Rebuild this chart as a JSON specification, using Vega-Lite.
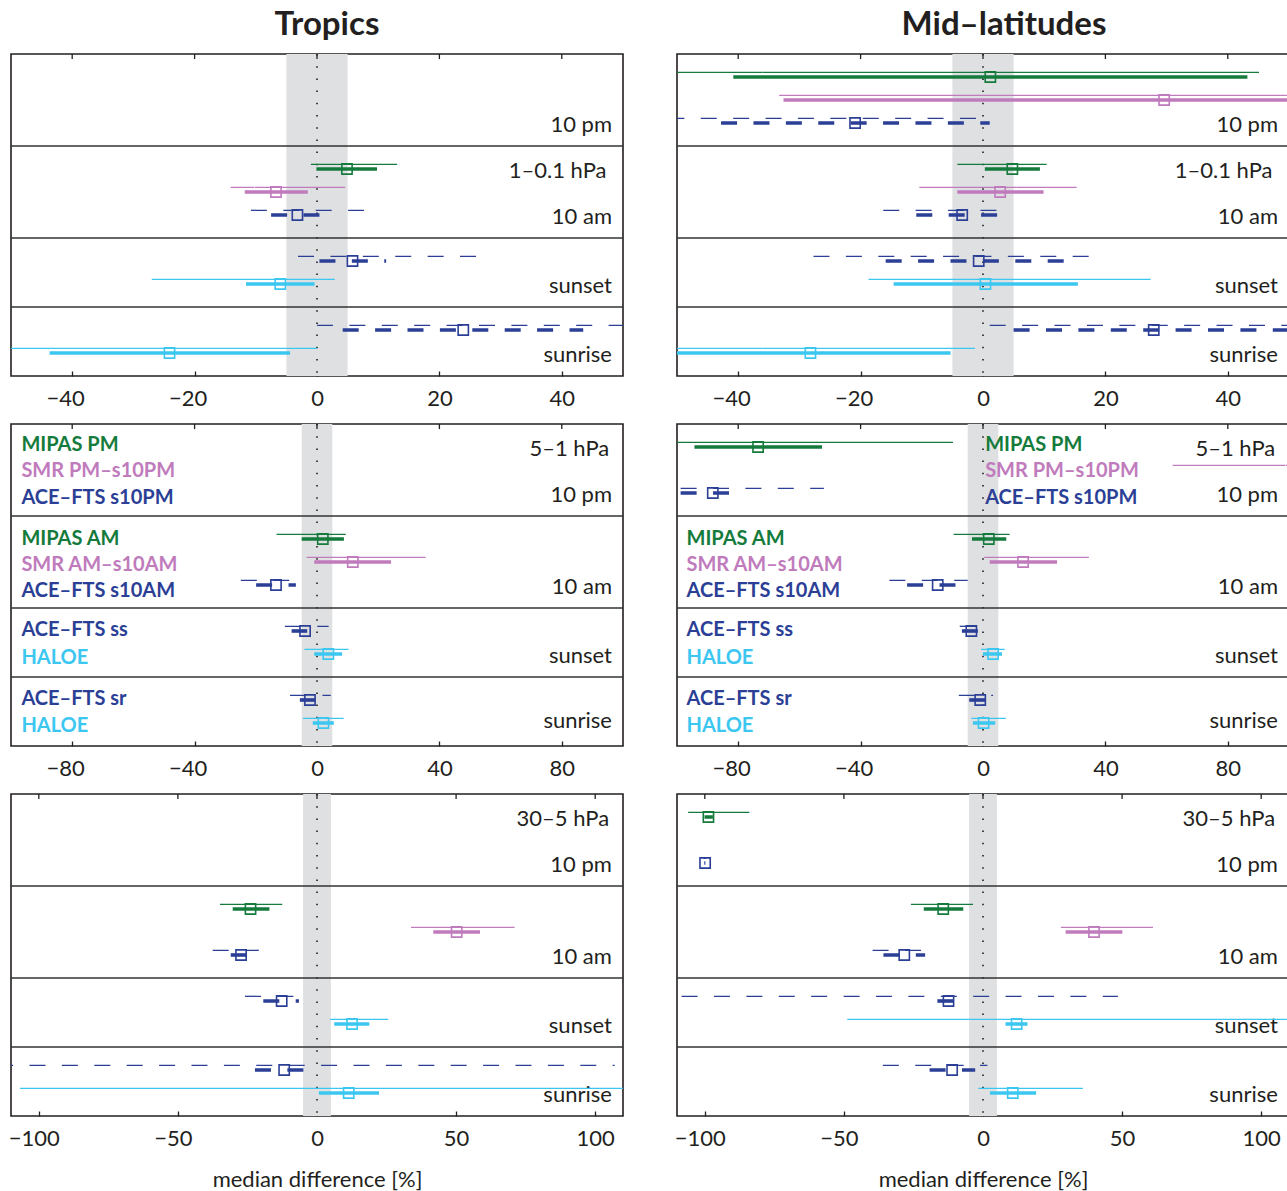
{
  "$schema": "https://vega.github.io/schema/vega-lite/v6.json",
  "padding": {"left": 7, "top": 8, "right": 0, "bottom": 0},
  "background": "white",
  "datasets": {
    "e": [
      {"c":"T","r":1,"i":"MIPAS","s":5,"a":-1.0,"b":13.1,"p":-0.1,"q":9.8,"m":4.9,"d":"s"},
      {"c":"T","r":1,"i":"SMR","s":6,"a":-14.1,"b":4.6,"p":-11.8,"q":-1.5,"m":-6.7,"d":"s"},
      {"c":"T","r":1,"i":"ACE","s":7,"a":-10.8,"b":7.8,"p":-7.5,"q":0.4,"m":-3.2,"d":"d"},
      {"c":"T","r":1,"i":"ACE","s":9,"a":-3.1,"b":26.1,"p":0.4,"q":11.3,"m":5.8,"d":"d"},
      {"c":"T","r":1,"i":"HALOE","s":10,"a":-27.0,"b":2.9,"p":-11.6,"q":-0.4,"m":-6.0,"d":"s"},
      {"c":"T","r":1,"i":"ACE","s":12,"a":0.0,"b":62,"p":4.2,"q":43.5,"m":23.9,"d":"d"},
      {"c":"T","r":1,"i":"HALOE","s":13,"a":-62,"b":0.0,"p":-43.7,"q":-4.4,"m":-24.1,"d":"s"},
      {"c":"M","r":1,"i":"MIPAS","s":1,"a":-62,"b":45.1,"p":-40.8,"q":43.2,"m":1.2,"d":"s"},
      {"c":"M","r":1,"i":"SMR","s":2,"a":-33.3,"b":62,"p":-32.6,"q":62,"m":29.6,"d":"s"},
      {"c":"M","r":1,"i":"ACE","s":3,"a":-62,"b":0.6,"p":-42.8,"q":1.1,"m":-20.9,"d":"d"},
      {"c":"M","r":1,"i":"MIPAS","s":5,"a":-4.2,"b":10.4,"p":0.3,"q":9.3,"m":4.8,"d":"s"},
      {"c":"M","r":1,"i":"SMR","s":6,"a":-10.4,"b":15.3,"p":-4.2,"q":9.9,"m":2.8,"d":"s"},
      {"c":"M","r":1,"i":"ACE","s":7,"a":-16.3,"b":2.6,"p":-10.9,"q":2.6,"m":-3.4,"d":"d"},
      {"c":"M","r":1,"i":"ACE","s":9,"a":-27.7,"b":17.6,"p":-15.9,"q":13.4,"m":-0.7,"d":"d"},
      {"c":"M","r":1,"i":"HALOE","s":10,"a":-18.7,"b":27.4,"p":-14.6,"q":15.5,"m":0.4,"d":"s"},
      {"c":"M","r":1,"i":"ACE","s":12,"a":1.1,"b":62,"p":5.0,"q":62,"m":27.9,"d":"d"},
      {"c":"M","r":1,"i":"HALOE","s":13,"a":-62,"b":-1.3,"p":-62,"q":-5.3,"m":-28.2,"d":"s"},
      {"c":"T","r":2,"i":"MIPAS","s":5,"a":-13.2,"b":9.4,"p":-5.0,"q":8.8,"m":1.9,"d":"s"},
      {"c":"T","r":2,"i":"SMR","s":6,"a":-3.4,"b":35.5,"p":-0.9,"q":24.2,"m":11.7,"d":"s"},
      {"c":"T","r":2,"i":"ACE","s":7,"a":-24.9,"b":-8.8,"p":-19.9,"q":-6.9,"m":-13.4,"d":"d"},
      {"c":"T","r":2,"i":"ACE","s":9,"a":-10.5,"b":3.8,"p":-8.3,"q":-3.2,"m":-3.9,"d":"d"},
      {"c":"T","r":2,"i":"HALOE","s":10,"a":-4.1,"b":10.3,"p":-0.9,"q":8.2,"m":3.7,"d":"s"},
      {"c":"T","r":2,"i":"ACE","s":12,"a":-8.8,"b":4.5,"p":-5.6,"q":-0.6,"m":-2.3,"d":"d"},
      {"c":"T","r":2,"i":"HALOE","s":13,"a":-4.6,"b":8.7,"p":-1.4,"q":5.5,"m":2.1,"d":"s"},
      {"c":"M","r":2,"i":"MIPAS","s":1,"a":-120,"b":-9.8,"p":-94.3,"q":-52.6,"m":-73.5,"d":"s"},
      {"c":"M","r":2,"i":"SMR","s":2,"a":62,"b":140,"p":104,"q":130,"m":115,"d":"s"},
      {"c":"M","r":2,"i":"ACE","s":3,"a":-120,"b":-52,"p":-120,"q":-77.8,"m":-88.3,"d":"d"},
      {"c":"M","r":2,"i":"MIPAS","s":5,"a":-9.6,"b":8.7,"p":-3.6,"q":7.6,"m":1.9,"d":"s"},
      {"c":"M","r":2,"i":"SMR","s":6,"a":0.4,"b":34.6,"p":2.2,"q":24.2,"m":13.1,"d":"s"},
      {"c":"M","r":2,"i":"ACE","s":7,"a":-30.6,"b":-5.0,"p":-24.8,"q":-9.0,"m":-14.8,"d":"d"},
      {"c":"M","r":2,"i":"ACE","s":9,"a":-7.6,"b":-1.6,"p":-6.9,"q":-1.6,"m":-3.8,"d":"d"},
      {"c":"M","r":2,"i":"HALOE","s":10,"a":-0.6,"b":7.1,"p":0.0,"q":6.2,"m":3.3,"d":"s"},
      {"c":"M","r":2,"i":"ACE","s":12,"a":-7.9,"b":3.3,"p":-4.5,"q":0.8,"m":-0.9,"d":"d"},
      {"c":"M","r":2,"i":"HALOE","s":13,"a":-3.8,"b":7.5,"p":-3.3,"q":4.0,"m":0.2,"d":"s"},
      {"c":"T","r":3,"i":"MIPAS","s":5,"a":-34.9,"b":-12.5,"p":-30.3,"q":-17.1,"m":-23.9,"d":"s"},
      {"c":"T","r":3,"i":"SMR","s":6,"a":33.8,"b":71.0,"p":41.8,"q":58.6,"m":50.2,"d":"s"},
      {"c":"T","r":3,"i":"ACE","s":7,"a":-37.5,"b":-20.9,"p":-31.0,"q":-25.3,"m":-27.3,"d":"d"},
      {"c":"T","r":3,"i":"ACE","s":9,"a":-25.9,"b":-8.3,"p":-19.3,"q":-6.5,"m":-12.7,"d":"d"},
      {"c":"T","r":3,"i":"HALOE","s":10,"a":4.7,"b":25.6,"p":6.2,"q":18.8,"m":12.6,"d":"s"},
      {"c":"T","r":3,"i":"ACE","s":12,"a":-115,"b":107,"p":-22.3,"q":-4.9,"m":-11.8,"d":"d"},
      {"c":"T","r":3,"i":"HALOE","s":13,"a":-106.8,"b":130,"p":0.7,"q":22.3,"m":11.4,"d":"s"},
      {"c":"M","r":3,"i":"MIPAS","s":1,"a":-106,"b":-84,"p":-100.1,"q":-97.1,"m":-98.7,"d":"s"},
      {"c":"M","r":3,"i":"ACE","s":3,"a":-100.5,"b":-99.5,"p":-100.2,"q":-99.8,"m":-99.9,"d":"d"},
      {"c":"M","r":3,"i":"MIPAS","s":5,"a":-25.9,"b":-3.6,"p":-21.3,"q":-7.1,"m":-14.3,"d":"s"},
      {"c":"M","r":3,"i":"SMR","s":6,"a":28.0,"b":61.1,"p":29.7,"q":50.1,"m":39.9,"d":"s"},
      {"c":"M","r":3,"i":"ACE","s":7,"a":-39.7,"b":-22.0,"p":-35.8,"q":-20.8,"m":-28.3,"d":"d"},
      {"c":"M","r":3,"i":"ACE","s":9,"a":-120,"b":48.5,"p":-16.4,"q":-10.3,"m":-12.4,"d":"d"},
      {"c":"M","r":3,"i":"HALOE","s":10,"a":-48.8,"b":130,"p":8.1,"q":16.0,"m":12.1,"d":"s"},
      {"c":"M","r":3,"i":"ACE","s":12,"a":-36.0,"b":1.6,"p":-19.2,"q":-2.8,"m":-11.1,"d":"d"},
      {"c":"M","r":3,"i":"HALOE","s":13,"a":-1.7,"b":35.9,"p":2.5,"q":19.1,"m":10.7,"d":"s"}
    ],
    "l": [
      {"r":1,"t":"10 pm","x":48.2,"y":3.37},
      {"r":1,"t":"1–0.1 hPa","x":47.3,"y":5.37},
      {"r":1,"t":"10 am","x":48.2,"y":7.37},
      {"r":1,"t":"sunset","x":48.2,"y":10.37},
      {"r":1,"t":"sunrise","x":48.2,"y":13.37},
      {"r":2,"t":"5–1 hPa","x":95.5,"y":1.37},
      {"r":2,"t":"10 pm","x":96.4,"y":3.37},
      {"r":2,"t":"10 am","x":96.4,"y":7.37},
      {"r":2,"t":"sunset","x":96.4,"y":10.37},
      {"r":2,"t":"sunrise","x":96.4,"y":13.2},
      {"r":3,"t":"30–5 hPa","x":105,"y":1.37},
      {"r":3,"t":"10 pm","x":106,"y":3.37},
      {"r":3,"t":"10 am","x":106,"y":7.37},
      {"r":3,"t":"sunset","x":106,"y":10.37},
      {"r":3,"t":"sunrise","x":106,"y":13.37}
    ],
    "g": [
      {"c":"T","t":"MIPAS PM","i":"MIPAS","x":-96.6,"y":1.16},
      {"c":"T","t":"SMR PM–s10PM","i":"SMR","x":-96.6,"y":2.32},
      {"c":"T","t":"ACE–FTS s10PM","i":"ACE","x":-96.6,"y":3.48},
      {"c":"T","t":"MIPAS AM","i":"MIPAS","x":-96.6,"y":5.26},
      {"c":"T","t":"SMR AM–s10AM","i":"SMR","x":-96.6,"y":6.37},
      {"c":"T","t":"ACE–FTS s10AM","i":"ACE","x":-96.6,"y":7.5},
      {"c":"T","t":"ACE–FTS ss","i":"ACE","x":-96.6,"y":9.2},
      {"c":"T","t":"HALOE","i":"HALOE","x":-96.6,"y":10.42},
      {"c":"T","t":"ACE–FTS sr","i":"ACE","x":-96.6,"y":12.2},
      {"c":"T","t":"HALOE","i":"HALOE","x":-96.6,"y":13.4},
      {"c":"M","t":"MIPAS PM","i":"MIPAS","x":0.7,"y":1.16},
      {"c":"M","t":"SMR PM–s10PM","i":"SMR","x":0.7,"y":2.32},
      {"c":"M","t":"ACE–FTS s10PM","i":"ACE","x":0.7,"y":3.48},
      {"c":"M","t":"MIPAS AM","i":"MIPAS","x":-96.9,"y":5.26},
      {"c":"M","t":"SMR AM–s10AM","i":"SMR","x":-96.9,"y":6.37},
      {"c":"M","t":"ACE–FTS s10AM","i":"ACE","x":-96.9,"y":7.5},
      {"c":"M","t":"ACE–FTS ss","i":"ACE","x":-96.9,"y":9.2},
      {"c":"M","t":"HALOE","i":"HALOE","x":-96.9,"y":10.42},
      {"c":"M","t":"ACE–FTS sr","i":"ACE","x":-96.9,"y":12.2},
      {"c":"M","t":"HALOE","i":"HALOE","x":-96.9,"y":13.4}
    ],
    "t": [
      {"r":1,"v":-40},{"r":1,"v":-20},{"r":1,"v":0},{"r":1,"v":20},{"r":1,"v":40},
      {"r":2,"v":-80},{"r":2,"v":-40},{"r":2,"v":0},{"r":2,"v":40},{"r":2,"v":80},
      {"r":3,"v":-100},{"r":3,"v":-50},{"r":3,"v":0},{"r":3,"v":50},{"r":3,"v":100}
    ],
    "sep": [{"y": 4}, {"y": 8}, {"y": 11}]
  },
  "spacing": 12,
  "vconcat": [
    {
      "spacing": 54, "bounds": "flush",
      "hconcat": [
        {
          "width": 612, "height": 322,
          "title": {"text": "Tropics", "fontSize": 33, "fontWeight": "bold", "font": "Lato", "color": "#231f20", "baseline": "alphabetic", "offset": -15, "dx": 10},
          "layer": [
            {"data": {"values": [{}]}, "mark": {"type": "rect", "color": "#dfe0e2"},
             "encoding": {"x": {"datum": -5, "type": "quantitative", "scale": {"domain": [-50, 50], "nice": false, "zero": false}, "axis": {"values": [-40, -20, 0, 20, 40], "title": null, "labelOffset": {"condition": {"test": "datum.value < 0", "value": -7}, "value": 0}}}, "x2": {"datum": 5}}},
            {"data": {"values": [{}]}, "mark": {"type": "rule", "color": "#000000", "strokeDash": [1.5, 10.7], "strokeWidth": 1.4}, "encoding": {"x": {"datum": 0, "type": "quantitative"}}},
            {"data": {"name": "t"}, "transform": [{"filter": "datum.r == 1"}], "mark": {"type": "rule", "color": "#231f20", "strokeWidth": 1.3},
             "encoding": {"x": {"field": "v", "type": "quantitative"}, "y": {"datum": 0, "type": "quantitative"}, "y2": {"datum": 0.22}}},
            {"data": {"name": "sep"}, "mark": {"type": "rule", "color": "#333333", "strokeWidth": 1.6},
             "encoding": {"y": {"field": "y", "type": "quantitative", "scale": {"domain": [0, 14], "reverse": true, "nice": false, "zero": false}, "axis": null}}},
            {"data": {"name": "l"}, "transform": [{"filter": "datum.r == 1"}], "mark": {"type": "text", "align": "right", "baseline": "alphabetic", "fontSize": 22, "font": "Lato", "color": "#231f20"},
             "encoding": {"x": {"field": "x", "type": "quantitative"}, "y": {"field": "y", "type": "quantitative"}, "text": {"field": "t"}}},
            {"data": {"name": "e"}, "transform": [{"filter": "datum.c == 'T' && datum.r == 1"}], "mark": {"type": "rule", "strokeWidth": 1.3, "yOffset": -4.7, "clip": true},
             "encoding": {"x": {"field": "a", "type": "quantitative"}, "x2": {"field": "b"}, "y": {"field": "s", "type": "quantitative"},
               "color": {"field": "i", "type": "nominal", "scale": {"domain": ["MIPAS", "SMR", "ACE", "HALOE"], "range": ["#157b3c", "#c07bbd", "#2b3f96", "#3cc7f0"]}, "legend": null},
               "strokeDash": {"field": "d", "type": "nominal", "scale": {"domain": ["s", "d"], "range": [[1, 0], [16, 16.4]]}, "legend": null}}},
            {"data": {"name": "e"}, "transform": [{"filter": "datum.c == 'T' && datum.r == 1"}], "mark": {"type": "rule", "strokeWidth": 3.6, "clip": true},
             "encoding": {"x": {"field": "p", "type": "quantitative"}, "x2": {"field": "q"}, "y": {"field": "s", "type": "quantitative"},
               "color": {"field": "i", "type": "nominal", "legend": null},
               "strokeDash": {"field": "d", "type": "nominal", "legend": null}}},
            {"data": {"name": "e"}, "transform": [{"filter": "datum.c == 'T' && datum.r == 1"}], "mark": {"type": "point", "shape": "square", "filled": false, "size": 105, "strokeWidth": 1.6, "opacity": 1, "clip": true},
             "encoding": {"x": {"field": "m", "type": "quantitative"}, "y": {"field": "s", "type": "quantitative"}, "color": {"field": "i", "type": "nominal", "legend": null}}}
          ]
        },
        {
          "width": 612, "height": 322,
          "title": {"text": "Mid–latitudes", "fontSize": 33, "fontWeight": "bold", "font": "Lato", "color": "#231f20", "baseline": "alphabetic", "offset": -15, "dx": 21},
          "layer": [
            {"data": {"values": [{}]}, "mark": {"type": "rect", "color": "#dfe0e2"},
             "encoding": {"x": {"datum": -5, "type": "quantitative", "scale": {"domain": [-50, 50], "nice": false, "zero": false}, "axis": {"values": [-40, -20, 0, 20, 40], "title": null, "labelOffset": {"condition": {"test": "datum.value < 0", "value": -7}, "value": 0}}}, "x2": {"datum": 5}}},
            {"data": {"values": [{}]}, "mark": {"type": "rule", "color": "#000000", "strokeDash": [1.5, 10.7], "strokeWidth": 1.4}, "encoding": {"x": {"datum": 0, "type": "quantitative"}}},
            {"data": {"name": "t"}, "transform": [{"filter": "datum.r == 1"}], "mark": {"type": "rule", "color": "#231f20", "strokeWidth": 1.3},
             "encoding": {"x": {"field": "v", "type": "quantitative"}, "y": {"datum": 0, "type": "quantitative"}, "y2": {"datum": 0.22}}},
            {"data": {"name": "sep"}, "mark": {"type": "rule", "color": "#333333", "strokeWidth": 1.6},
             "encoding": {"y": {"field": "y", "type": "quantitative", "scale": {"domain": [0, 14], "reverse": true, "nice": false, "zero": false}, "axis": null}}},
            {"data": {"name": "l"}, "transform": [{"filter": "datum.r == 1"}], "mark": {"type": "text", "align": "right", "baseline": "alphabetic", "fontSize": 22, "font": "Lato", "color": "#231f20"},
             "encoding": {"x": {"field": "x", "type": "quantitative"}, "y": {"field": "y", "type": "quantitative"}, "text": {"field": "t"}}},
            {"data": {"name": "e"}, "transform": [{"filter": "datum.c == 'M' && datum.r == 1"}], "mark": {"type": "rule", "strokeWidth": 1.3, "yOffset": -4.7, "clip": true},
             "encoding": {"x": {"field": "a", "type": "quantitative"}, "x2": {"field": "b"}, "y": {"field": "s", "type": "quantitative"},
               "color": {"field": "i", "type": "nominal", "scale": {"domain": ["MIPAS", "SMR", "ACE", "HALOE"], "range": ["#157b3c", "#c07bbd", "#2b3f96", "#3cc7f0"]}, "legend": null},
               "strokeDash": {"field": "d", "type": "nominal", "scale": {"domain": ["s", "d"], "range": [[1, 0], [16, 16.4]]}, "legend": null}}},
            {"data": {"name": "e"}, "transform": [{"filter": "datum.c == 'M' && datum.r == 1"}], "mark": {"type": "rule", "strokeWidth": 3.6, "clip": true},
             "encoding": {"x": {"field": "p", "type": "quantitative"}, "x2": {"field": "q"}, "y": {"field": "s", "type": "quantitative"},
               "color": {"field": "i", "type": "nominal", "legend": null},
               "strokeDash": {"field": "d", "type": "nominal", "legend": null}}},
            {"data": {"name": "e"}, "transform": [{"filter": "datum.c == 'M' && datum.r == 1"}], "mark": {"type": "point", "shape": "square", "filled": false, "size": 105, "strokeWidth": 1.6, "opacity": 1, "clip": true},
             "encoding": {"x": {"field": "m", "type": "quantitative"}, "y": {"field": "s", "type": "quantitative"}, "color": {"field": "i", "type": "nominal", "legend": null}}}
          ]
        }
      ]
    },
    {
      "spacing": 54, "bounds": "flush",
      "hconcat": [
        {
          "width": 612, "height": 322,
          "layer": [
            {"data": {"values": [{}]}, "mark": {"type": "rect", "color": "#dfe0e2"},
             "encoding": {"x": {"datum": -5, "type": "quantitative", "scale": {"domain": [-100, 100], "nice": false, "zero": false}, "axis": {"values": [-80, -40, 0, 40, 80], "title": null, "labelOffset": {"condition": {"test": "datum.value < 0", "value": -7}, "value": 0}}}, "x2": {"datum": 5}}},
            {"data": {"values": [{}]}, "mark": {"type": "rule", "color": "#000000", "strokeDash": [1.5, 10.7], "strokeWidth": 1.4}, "encoding": {"x": {"datum": 0, "type": "quantitative"}}},
            {"data": {"name": "t"}, "transform": [{"filter": "datum.r == 2"}], "mark": {"type": "rule", "color": "#231f20", "strokeWidth": 1.3},
             "encoding": {"x": {"field": "v", "type": "quantitative"}, "y": {"datum": 0, "type": "quantitative"}, "y2": {"datum": 0.22}}},
            {"data": {"name": "sep"}, "mark": {"type": "rule", "color": "#333333", "strokeWidth": 1.6},
             "encoding": {"y": {"field": "y", "type": "quantitative", "scale": {"domain": [0, 14], "reverse": true, "nice": false, "zero": false}, "axis": null}}},
            {"data": {"name": "l"}, "transform": [{"filter": "datum.r == 2"}], "mark": {"type": "text", "align": "right", "baseline": "alphabetic", "fontSize": 22, "font": "Lato", "color": "#231f20"},
             "encoding": {"x": {"field": "x", "type": "quantitative"}, "y": {"field": "y", "type": "quantitative"}, "text": {"field": "t"}}},
            {"data": {"name": "g"}, "transform": [{"filter": "datum.c == 'T'"}], "mark": {"type": "text", "align": "left", "baseline": "alphabetic", "fontSize": 20, "fontWeight": "bold", "font": "Lato"},
             "encoding": {"x": {"field": "x", "type": "quantitative"}, "y": {"field": "y", "type": "quantitative"}, "text": {"field": "t"},
               "color": {"field": "i", "type": "nominal", "scale": {"domain": ["MIPAS", "SMR", "ACE", "HALOE"], "range": ["#157b3c", "#c07bbd", "#2b3f96", "#3cc7f0"]}, "legend": null}}},
            {"data": {"name": "e"}, "transform": [{"filter": "datum.c == 'T' && datum.r == 2"}], "mark": {"type": "rule", "strokeWidth": 1.3, "yOffset": -4.7, "clip": true},
             "encoding": {"x": {"field": "a", "type": "quantitative"}, "x2": {"field": "b"}, "y": {"field": "s", "type": "quantitative"},
               "color": {"field": "i", "type": "nominal", "legend": null},
               "strokeDash": {"field": "d", "type": "nominal", "scale": {"domain": ["s", "d"], "range": [[1, 0], [16, 16.4]]}, "legend": null}}},
            {"data": {"name": "e"}, "transform": [{"filter": "datum.c == 'T' && datum.r == 2"}], "mark": {"type": "rule", "strokeWidth": 3.6, "clip": true},
             "encoding": {"x": {"field": "p", "type": "quantitative"}, "x2": {"field": "q"}, "y": {"field": "s", "type": "quantitative"},
               "color": {"field": "i", "type": "nominal", "legend": null},
               "strokeDash": {"field": "d", "type": "nominal", "legend": null}}},
            {"data": {"name": "e"}, "transform": [{"filter": "datum.c == 'T' && datum.r == 2"}], "mark": {"type": "point", "shape": "square", "filled": false, "size": 105, "strokeWidth": 1.6, "opacity": 1, "clip": true},
             "encoding": {"x": {"field": "m", "type": "quantitative"}, "y": {"field": "s", "type": "quantitative"}, "color": {"field": "i", "type": "nominal", "legend": null}}}
          ]
        },
        {
          "width": 612, "height": 322,
          "layer": [
            {"data": {"values": [{}]}, "mark": {"type": "rect", "color": "#dfe0e2"},
             "encoding": {"x": {"datum": -5, "type": "quantitative", "scale": {"domain": [-100, 100], "nice": false, "zero": false}, "axis": {"values": [-80, -40, 0, 40, 80], "title": null, "labelOffset": {"condition": {"test": "datum.value < 0", "value": -7}, "value": 0}}}, "x2": {"datum": 5}}},
            {"data": {"values": [{}]}, "mark": {"type": "rule", "color": "#000000", "strokeDash": [1.5, 10.7], "strokeWidth": 1.4}, "encoding": {"x": {"datum": 0, "type": "quantitative"}}},
            {"data": {"name": "t"}, "transform": [{"filter": "datum.r == 2"}], "mark": {"type": "rule", "color": "#231f20", "strokeWidth": 1.3},
             "encoding": {"x": {"field": "v", "type": "quantitative"}, "y": {"datum": 0, "type": "quantitative"}, "y2": {"datum": 0.22}}},
            {"data": {"name": "sep"}, "mark": {"type": "rule", "color": "#333333", "strokeWidth": 1.6},
             "encoding": {"y": {"field": "y", "type": "quantitative", "scale": {"domain": [0, 14], "reverse": true, "nice": false, "zero": false}, "axis": null}}},
            {"data": {"name": "l"}, "transform": [{"filter": "datum.r == 2"}], "mark": {"type": "text", "align": "right", "baseline": "alphabetic", "fontSize": 22, "font": "Lato", "color": "#231f20"},
             "encoding": {"x": {"field": "x", "type": "quantitative"}, "y": {"field": "y", "type": "quantitative"}, "text": {"field": "t"}}},
            {"data": {"name": "g"}, "transform": [{"filter": "datum.c == 'M'"}], "mark": {"type": "text", "align": "left", "baseline": "alphabetic", "fontSize": 20, "fontWeight": "bold", "font": "Lato"},
             "encoding": {"x": {"field": "x", "type": "quantitative"}, "y": {"field": "y", "type": "quantitative"}, "text": {"field": "t"},
               "color": {"field": "i", "type": "nominal", "scale": {"domain": ["MIPAS", "SMR", "ACE", "HALOE"], "range": ["#157b3c", "#c07bbd", "#2b3f96", "#3cc7f0"]}, "legend": null}}},
            {"data": {"name": "e"}, "transform": [{"filter": "datum.c == 'M' && datum.r == 2"}], "mark": {"type": "rule", "strokeWidth": 1.3, "yOffset": -4.7, "clip": true},
             "encoding": {"x": {"field": "a", "type": "quantitative"}, "x2": {"field": "b"}, "y": {"field": "s", "type": "quantitative"},
               "color": {"field": "i", "type": "nominal", "legend": null},
               "strokeDash": {"field": "d", "type": "nominal", "scale": {"domain": ["s", "d"], "range": [[1, 0], [16, 16.4]]}, "legend": null}}},
            {"data": {"name": "e"}, "transform": [{"filter": "datum.c == 'M' && datum.r == 2"}], "mark": {"type": "rule", "strokeWidth": 3.6, "clip": true},
             "encoding": {"x": {"field": "p", "type": "quantitative"}, "x2": {"field": "q"}, "y": {"field": "s", "type": "quantitative"},
               "color": {"field": "i", "type": "nominal", "legend": null},
               "strokeDash": {"field": "d", "type": "nominal", "legend": null}}},
            {"data": {"name": "e"}, "transform": [{"filter": "datum.c == 'M' && datum.r == 2"}], "mark": {"type": "point", "shape": "square", "filled": false, "size": 105, "strokeWidth": 1.6, "opacity": 1, "clip": true},
             "encoding": {"x": {"field": "m", "type": "quantitative"}, "y": {"field": "s", "type": "quantitative"}, "color": {"field": "i", "type": "nominal", "legend": null}}}
          ]
        }
      ]
    },
    {
      "spacing": 54, "bounds": "flush",
      "hconcat": [
        {
          "width": 612, "height": 322,
          "layer": [
            {"data": {"values": [{}]}, "mark": {"type": "rect", "color": "#dfe0e2"},
             "encoding": {"x": {"datum": -5, "type": "quantitative", "scale": {"domain": [-110, 110], "nice": false, "zero": false}, "axis": {"values": [-100, -50, 0, 50, 100], "title": "median difference [%]", "labelOffset": {"condition": {"test": "datum.value < 0", "value": -5}, "value": 0}}}, "x2": {"datum": 5}}},
            {"data": {"values": [{}]}, "mark": {"type": "rule", "color": "#000000", "strokeDash": [1.5, 10.7], "strokeWidth": 1.4}, "encoding": {"x": {"datum": 0, "type": "quantitative"}}},
            {"data": {"name": "t"}, "transform": [{"filter": "datum.r == 3"}], "mark": {"type": "rule", "color": "#231f20", "strokeWidth": 1.3},
             "encoding": {"x": {"field": "v", "type": "quantitative"}, "y": {"datum": 0, "type": "quantitative"}, "y2": {"datum": 0.22}}},
            {"data": {"name": "sep"}, "mark": {"type": "rule", "color": "#333333", "strokeWidth": 1.6},
             "encoding": {"y": {"field": "y", "type": "quantitative", "scale": {"domain": [0, 14], "reverse": true, "nice": false, "zero": false}, "axis": null}}},
            {"data": {"name": "l"}, "transform": [{"filter": "datum.r == 3"}], "mark": {"type": "text", "align": "right", "baseline": "alphabetic", "fontSize": 22, "font": "Lato", "color": "#231f20"},
             "encoding": {"x": {"field": "x", "type": "quantitative"}, "y": {"field": "y", "type": "quantitative"}, "text": {"field": "t"}}},
            {"data": {"name": "e"}, "transform": [{"filter": "datum.c == 'T' && datum.r == 3"}], "mark": {"type": "rule", "strokeWidth": 1.3, "yOffset": -4.7, "clip": true},
             "encoding": {"x": {"field": "a", "type": "quantitative"}, "x2": {"field": "b"}, "y": {"field": "s", "type": "quantitative"},
               "color": {"field": "i", "type": "nominal", "scale": {"domain": ["MIPAS", "SMR", "ACE", "HALOE"], "range": ["#157b3c", "#c07bbd", "#2b3f96", "#3cc7f0"]}, "legend": null},
               "strokeDash": {"field": "d", "type": "nominal", "scale": {"domain": ["s", "d"], "range": [[1, 0], [16, 16.4]]}, "legend": null}}},
            {"data": {"name": "e"}, "transform": [{"filter": "datum.c == 'T' && datum.r == 3"}], "mark": {"type": "rule", "strokeWidth": 3.6, "clip": true},
             "encoding": {"x": {"field": "p", "type": "quantitative"}, "x2": {"field": "q"}, "y": {"field": "s", "type": "quantitative"},
               "color": {"field": "i", "type": "nominal", "legend": null},
               "strokeDash": {"field": "d", "type": "nominal", "legend": null}}},
            {"data": {"name": "e"}, "transform": [{"filter": "datum.c == 'T' && datum.r == 3"}], "mark": {"type": "point", "shape": "square", "filled": false, "size": 105, "strokeWidth": 1.6, "opacity": 1, "clip": true},
             "encoding": {"x": {"field": "m", "type": "quantitative"}, "y": {"field": "s", "type": "quantitative"}, "color": {"field": "i", "type": "nominal", "legend": null}}}
          ]
        },
        {
          "width": 612, "height": 322,
          "layer": [
            {"data": {"values": [{}]}, "mark": {"type": "rect", "color": "#dfe0e2"},
             "encoding": {"x": {"datum": -5, "type": "quantitative", "scale": {"domain": [-110, 110], "nice": false, "zero": false}, "axis": {"values": [-100, -50, 0, 50, 100], "title": "median difference [%]", "labelOffset": {"condition": {"test": "datum.value < 0", "value": -5}, "value": 0}}}, "x2": {"datum": 5}}},
            {"data": {"values": [{}]}, "mark": {"type": "rule", "color": "#000000", "strokeDash": [1.5, 10.7], "strokeWidth": 1.4}, "encoding": {"x": {"datum": 0, "type": "quantitative"}}},
            {"data": {"name": "t"}, "transform": [{"filter": "datum.r == 3"}], "mark": {"type": "rule", "color": "#231f20", "strokeWidth": 1.3},
             "encoding": {"x": {"field": "v", "type": "quantitative"}, "y": {"datum": 0, "type": "quantitative"}, "y2": {"datum": 0.22}}},
            {"data": {"name": "sep"}, "mark": {"type": "rule", "color": "#333333", "strokeWidth": 1.6},
             "encoding": {"y": {"field": "y", "type": "quantitative", "scale": {"domain": [0, 14], "reverse": true, "nice": false, "zero": false}, "axis": null}}},
            {"data": {"name": "l"}, "transform": [{"filter": "datum.r == 3"}], "mark": {"type": "text", "align": "right", "baseline": "alphabetic", "fontSize": 22, "font": "Lato", "color": "#231f20"},
             "encoding": {"x": {"field": "x", "type": "quantitative"}, "y": {"field": "y", "type": "quantitative"}, "text": {"field": "t"}}},
            {"data": {"name": "e"}, "transform": [{"filter": "datum.c == 'M' && datum.r == 3"}], "mark": {"type": "rule", "strokeWidth": 1.3, "yOffset": -4.7, "clip": true},
             "encoding": {"x": {"field": "a", "type": "quantitative"}, "x2": {"field": "b"}, "y": {"field": "s", "type": "quantitative"},
               "color": {"field": "i", "type": "nominal", "scale": {"domain": ["MIPAS", "SMR", "ACE", "HALOE"], "range": ["#157b3c", "#c07bbd", "#2b3f96", "#3cc7f0"]}, "legend": null},
               "strokeDash": {"field": "d", "type": "nominal", "scale": {"domain": ["s", "d"], "range": [[1, 0], [16, 16.4]]}, "legend": null}}},
            {"data": {"name": "e"}, "transform": [{"filter": "datum.c == 'M' && datum.r == 3"}], "mark": {"type": "rule", "strokeWidth": 3.6, "clip": true},
             "encoding": {"x": {"field": "p", "type": "quantitative"}, "x2": {"field": "q"}, "y": {"field": "s", "type": "quantitative"},
               "color": {"field": "i", "type": "nominal", "legend": null},
               "strokeDash": {"field": "d", "type": "nominal", "legend": null}}},
            {"data": {"name": "e"}, "transform": [{"filter": "datum.c == 'M' && datum.r == 3"}], "mark": {"type": "point", "shape": "square", "filled": false, "size": 105, "strokeWidth": 1.6, "opacity": 1, "clip": true},
             "encoding": {"x": {"field": "m", "type": "quantitative"}, "y": {"field": "s", "type": "quantitative"}, "color": {"field": "i", "type": "nominal", "legend": null}}}
          ]
        }
      ]
    }
  ],
  "config": {
    "font": "Lato",
    "view": {"stroke": "#231f20", "strokeWidth": 1.6},
    "axis": {
      "domain": false, "grid": false,
      "tickSize": -5, "tickColor": "#231f20", "tickWidth": 1.3,
      "labelFont": "Lato", "labelFontSize": 22, "labelColor": "#231f20", "labelPadding": 17,
      "titleFont": "Lato", "titleFontSize": 22, "titleFontWeight": "normal", "titleColor": "#231f20", "titlePadding": 20
    },
    "axisY": {"disable": true}
  }
}
